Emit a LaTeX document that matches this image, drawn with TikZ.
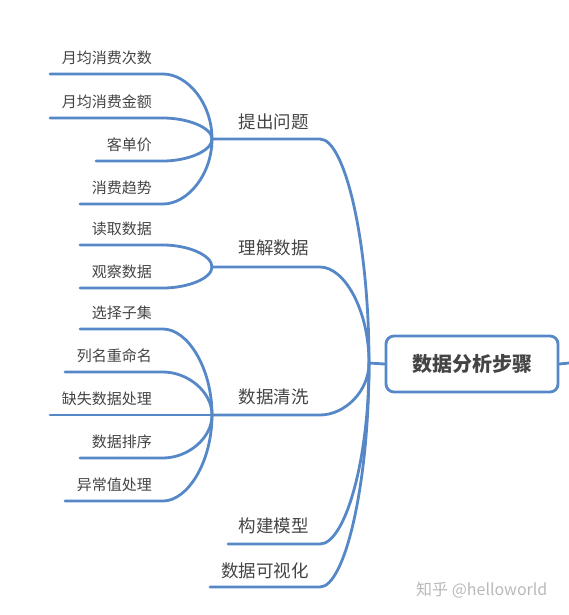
\documentclass[tikz,border=0pt]{standalone}
\usepackage{fontspec}
\newfontfamily\cjk{Noto Sans CJK SC}
\usetikzlibrary{calc}
\definecolor{lineblue}{RGB}{86,136,200}
\definecolor{txt}{RGB}{68,68,68}
\definecolor{wmgray}{RGB}{185,185,185}
\begin{document}
\begin{tikzpicture}[x=1pt,y=-1pt,
  conn/.style={draw=lineblue, line width=2.8pt, line cap=round},
  curvy/.style={to path={.. controls ($(\tikztostart)!0.5!(\tikztostart-|\tikztotarget)$) and ($(\tikztotarget)!0.55!(\tikztotarget|-\tikztostart)$) .. (\tikztotarget)}},
  leaf/.style={font=\cjk\fontsize{15}{17}\selectfont, text=txt, anchor=east, inner sep=0pt},
  branchlbl/.style={font=\cjk\fontsize{17.5}{20}\selectfont, text=txt, anchor=east, inner sep=0pt},
  rootbox/.style={draw=lineblue, line width=2.8pt, rounded corners=8pt, minimum width=172pt, minimum height=56pt, font=\cjk\bfseries\fontsize{20}{24}\selectfont, text=txt, fill=white}
]
\useasboundingbox (0,0) rectangle (569,615);

% junctions
\coordinate (j1) at (212,139);
\coordinate (j2) at (212,267);
\coordinate (j3) at (212,415);
\coordinate (J) at (369,363);

% root
\node[rootbox] (root) at (472,364) {数据分析步骤};
\coordinate (rout) at (569,363);
\draw[conn] (J) -- (root.west);
\draw[conn] (root.east) -- (rout);

% top-level branches
\coordinate (b1e) at (320,139);
\coordinate (b2e) at (320,267);
\coordinate (b3e) at (320,415);
\coordinate (b4s) at (228,544); \coordinate (b4e) at (320,544);
\coordinate (b5s) at (210,587); \coordinate (b5e) at (320,587);
\node[branchlbl] (t1) at (309,122) {提出问题};
\node[branchlbl] (t2) at (309,248) {理解数据};
\node[branchlbl] (t3) at (309,397) {数据清洗};
\node[branchlbl] (t4) at (309,526) {构建模型};
\node[branchlbl] (t5) at (309,571) {数据可视化};
\draw[conn] (j1) -- (b1e) to[curvy] (J);
\draw[conn] (j2) -- (b2e) to[curvy] (J);
\draw[conn] (j3) -- (b3e) to[curvy] (J);
\draw[conn] (b4s) -- (b4e) to[curvy] (J);
\draw[conn] (b5s) -- (b5e) to[curvy] (J);

% leaves of 提出问题
\coordinate (a1s) at (50,74);  \coordinate (a1e) at (163,74);
\coordinate (a2s) at (50,118); \coordinate (a2e) at (163,118);
\coordinate (a3s) at (96,161); \coordinate (a3e) at (163,161);
\coordinate (a4s) at (80,204); \coordinate (a4e) at (163,204);
\node[leaf] (n1) at (152,58) {月均消费次数};
\node[leaf] (n2) at (152,102) {月均消费金额};
\node[leaf] (n3) at (152,145) {客单价};
\node[leaf] (n4) at (152,188) {消费趋势};
\draw[conn] (a1s) -- (a1e) to[curvy] (j1);
\draw[conn] (a2s) -- (a2e) to[curvy] (j1);
\draw[conn] (a3s) -- (a3e) to[curvy] (j1);
\draw[conn] (a4s) -- (a4e) to[curvy] (j1);

% leaves of 理解数据
\coordinate (c1s) at (80,245); \coordinate (c1e) at (163,245);
\coordinate (c2s) at (80,288); \coordinate (c2e) at (163,288);
\node[leaf] (m1) at (152,229) {读取数据};
\node[leaf] (m2) at (152,272) {观察数据};
\draw[conn] (c1s) -- (c1e) to[curvy] (j2);
\draw[conn] (c2s) -- (c2e) to[curvy] (j2);

% leaves of 数据清洗
\coordinate (d1s) at (80,329); \coordinate (d1e) at (163,329);
\coordinate (d2s) at (65,372); \coordinate (d2e) at (163,372);
\coordinate (d3s) at (50,415);
\coordinate (d4s) at (80,458); \coordinate (d4e) at (163,458);
\coordinate (d5s) at (65,501); \coordinate (d5e) at (163,501);
\node[leaf] (k1) at (152,313) {选择子集};
\node[leaf] (k2) at (152,356) {列名重命名};
\node[leaf] (k3) at (152,399) {缺失数据处理};
\node[leaf] (k4) at (152,442) {数据排序};
\node[leaf] (k5) at (152,485) {异常值处理};
\draw[conn] (d1s) -- (d1e) to[curvy] (j3);
\draw[conn] (d2s) -- (d2e) to[curvy] (j3);
\draw[conn] (d3s) -- (j3);
\draw[conn] (d4s) -- (d4e) to[curvy] (j3);
\draw[conn] (d5s) -- (d5e) to[curvy] (j3);

% watermark
\node[font=\cjk\fontsize{16}{18}\selectfont, text=wmgray, anchor=west, inner sep=0pt] (wm) at (416,590) {知乎 @helloworld};
\end{tikzpicture}
\end{document}
